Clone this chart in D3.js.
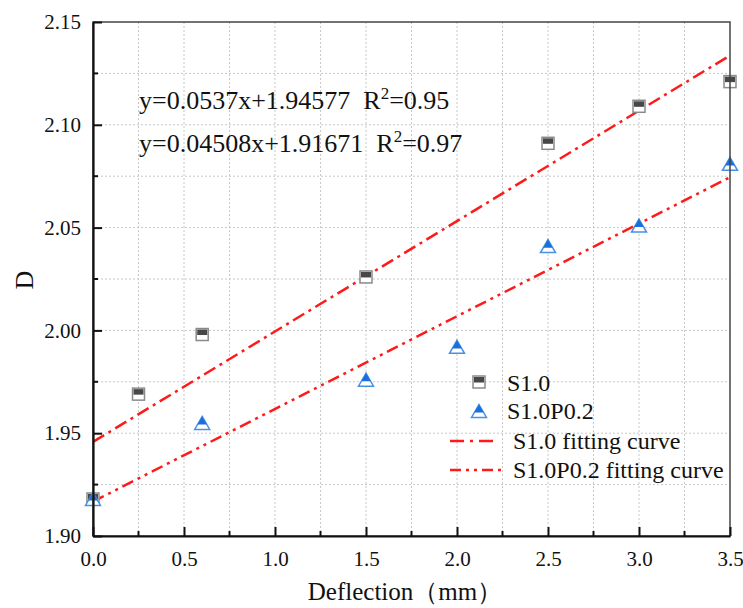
<!DOCTYPE html>
<html>
<head>
<meta charset="utf-8">
<script src="https://cdn.jsdelivr.net/npm/d3@7"></script>
<style>
  body { margin: 0; background: #fff; }
  svg text { fill: #111; }
</style>
</head>
<body>
<div id="chart-area"></div>
<script>
// data
const deflection = [0, 0.25, 0.6, 1.5, 2.5, 3.0, 3.5];
const dS10 = [1.918, 1.969, 1.998, 2.026, 2.091, 2.109, 2.121];
const deflectionP = [0, 0.6, 1.5, 2.0, 2.5, 3.0, 3.5];
const dS10P02 = [1.918, 1.955, 1.976, 1.992, 2.041, 2.051, 2.081];
// fit lines: [slope, intercept]
const fitS10 = [0.0537, 1.94577];
const fitS10P02 = [0.04508, 1.91671];
const xTicks = [0, 0.5, 1, 1.5, 2, 2.5, 3, 3.5];
const yTicks = [1.90, 1.95, 2.00, 2.05, 2.10, 2.15];

const MARGIN = { LEFT: 93, RIGHT: 13, TOP: 22, BOTTOM: 72 };
const W = 743, H = 608;
const WIDTH = W - MARGIN.LEFT - MARGIN.RIGHT;
const HEIGHT = H - MARGIN.TOP - MARGIN.BOTTOM;
const SERIF = "'Liberation Serif', 'Times New Roman', 'DejaVu Serif', serif";
const RED = "#ff1a1a";

const svg = d3.select("#chart-area").append("svg")
  .attr("width", W)
  .attr("height", H)
  .attr("font-family", SERIF);

const g = svg.append("g")
  .attr("transform", `translate(${MARGIN.LEFT}, ${MARGIN.TOP})`);

const x = d3.scaleLinear().domain([0, 3.5]).range([0, WIDTH]);
const y = d3.scaleLinear().domain([1.90, 2.15]).range([HEIGHT, 0]);

// grid (major + minor)
const xGrid = d3.range(0.25, 3.5, 0.25);
const yGrid = d3.range(1.925, 2.149, 0.025);
g.append("g").selectAll("line").data(xGrid).enter().append("line")
  .attr("x1", d => x(d)).attr("x2", d => x(d))
  .attr("y1", 0).attr("y2", HEIGHT)
  .attr("stroke", "#c8c8c8").attr("stroke-width", 1)
  .attr("stroke-dasharray", "2,2");
g.append("g").selectAll("line").data(yGrid).enter().append("line")
  .attr("x1", 0).attr("x2", WIDTH)
  .attr("y1", d => y(d)).attr("y2", d => y(d))
  .attr("stroke", "#c8c8c8").attr("stroke-width", 1)
  .attr("stroke-dasharray", "2,2");

// fit lines
const lineGen = d3.line().x(d => x(d[0])).y(d => y(d[1]));
function fitPts(f) {
  return x.domain().map(v => [v, f[0] * v + f[1]]);
}
g.append("path").datum(fitPts(fitS10))
  .attr("d", lineGen).attr("fill", "none")
  .attr("stroke", RED).attr("stroke-width", 2.5)
  .attr("stroke-dasharray", "13,5,3,5");
g.append("path").datum(fitPts(fitS10P02))
  .attr("d", lineGen).attr("fill", "none")
  .attr("stroke", RED).attr("stroke-width", 2.5)
  .attr("stroke-dasharray", "12,5,3,5,3,5");

// markers
function square(sel, cx, cy) {
  const s = 12;
  sel.append("rect").attr("x", cx - s / 2).attr("y", cy - s / 2)
    .attr("width", s).attr("height", s)
    .attr("fill", "#fff").attr("stroke", "#8a8a8a").attr("stroke-width", 1.5);
  sel.append("rect").attr("x", cx - s / 2 + 1).attr("y", cy - s / 2 + 1)
    .attr("width", s - 2).attr("height", s / 2 - 0.5)
    .attr("fill", "#474747");
}
function triangle(sel, cx, cy) {
  const w = 15, h = 13;
  sel.append("path")
    .attr("d", `M${cx},${cy - h / 2} L${cx + w / 2},${cy + h / 2} L${cx - w / 2},${cy + h / 2} Z`)
    .attr("fill", "#fff").attr("stroke", "#4a90e2").attr("stroke-width", 1.5);
  const k = 0.62;
  sel.append("path")
    .attr("d", `M${cx},${cy - h / 2} L${cx + w / 2 * k},${cy - h / 2 + h * k} L${cx - w / 2 * k},${cy - h / 2 + h * k} Z`)
    .attr("fill", "#1a6fdc");
}

const pts = g.append("g");
deflection.forEach((d, i) => square(pts, x(d), y(dS10[i])));
deflectionP.forEach((d, i) => triangle(pts, x(d), y(dS10P02[i])));

// frame
g.append("rect").attr("x", 0).attr("y", 0)
  .attr("width", WIDTH).attr("height", HEIGHT)
  .attr("fill", "none").attr("stroke", "#444").attr("stroke-width", 1.5);

// axes
const xAxis = d3.axisBottom(x).tickValues(xTicks).tickFormat(d3.format(".1f"))
  .tickSizeInner(-9).tickSizeOuter(0).tickPadding(15);
const xg = g.append("g").attr("transform", `translate(0, ${HEIGHT})`).call(xAxis);
const yAxis = d3.axisLeft(y).tickValues(yTicks).tickFormat(d3.format(".2f"))
  .tickSizeInner(-9).tickSizeOuter(0).tickPadding(12);
const yg = g.append("g").call(yAxis);
[xg, yg].forEach(a => {
  a.attr("font-family", SERIF).attr("font-size", 21);
  a.select(".domain").attr("stroke", "#111").attr("stroke-width", 2.2);
  a.selectAll(".tick line").attr("stroke", "#111").attr("stroke-width", 2);
  a.selectAll(".tick text").attr("fill", "#111");
});
// minor ticks
g.append("g").selectAll("line").data(d3.range(0.25, 3.5, 0.5)).enter().append("line")
  .attr("x1", d => x(d)).attr("x2", d => x(d))
  .attr("y1", HEIGHT).attr("y2", HEIGHT - 5)
  .attr("stroke", "#111").attr("stroke-width", 2);
g.append("g").selectAll("line").data(d3.range(1.925, 2.15, 0.05)).enter().append("line")
  .attr("x1", 0).attr("x2", 5)
  .attr("y1", d => y(d)).attr("y2", d => y(d))
  .attr("stroke", "#111").attr("stroke-width", 2);

// axis titles
svg.append("text")
  .attr("x", 405).attr("y", 600)
  .attr("text-anchor", "middle").attr("font-size", "25px")
  .text("Deflection（mm）");
svg.append("text")
  .attr("transform", "translate(33, 280) rotate(-90)")
  .attr("text-anchor", "middle").attr("font-size", "26px")
  .text("D");

// equations
const eq = [
  ["y=0.0537x+1.94577", "0.95", 109],
  ["y=0.04508x+1.91671", "0.97", 152]
];
eq.forEach(e => {
  const t = svg.append("text").attr("x", 139).attr("y", e[2]).attr("font-size", "26px");
  t.append("tspan").text(e[0] + "\u00a0\u00a0R");
  t.append("tspan").attr("dy", -10).attr("font-size", "17px").text("2");
  t.append("tspan").attr("dy", 10).text("=" + e[1]);
});

// legend
const lg = svg.append("g");
square(lg, 479, 382);
triangle(lg, 479, 411);
lg.append("text").attr("x", 507).attr("y", 391).attr("font-size", "24px").text("S1.0");
lg.append("text").attr("x", 507).attr("y", 419).attr("font-size", "24px").text("S1.0P0.2");
lg.append("line").attr("x1", 450).attr("x2", 499).attr("y1", 441).attr("y2", 441)
  .attr("stroke", RED).attr("stroke-width", 2.5).attr("stroke-dasharray", "14,6,3,6");
lg.append("line").attr("x1", 450).attr("x2", 502).attr("y1", 470).attr("y2", 470)
  .attr("stroke", RED).attr("stroke-width", 2.5).attr("stroke-dasharray", "11,5,3,5,3,5");
lg.append("text").attr("x", 513).attr("y", 449).attr("font-size", "24px").text("S1.0 fitting curve");
lg.append("text").attr("x", 513).attr("y", 478).attr("font-size", "24px").text("S1.0P0.2 fitting curve");
</script>
</body>
</html>
